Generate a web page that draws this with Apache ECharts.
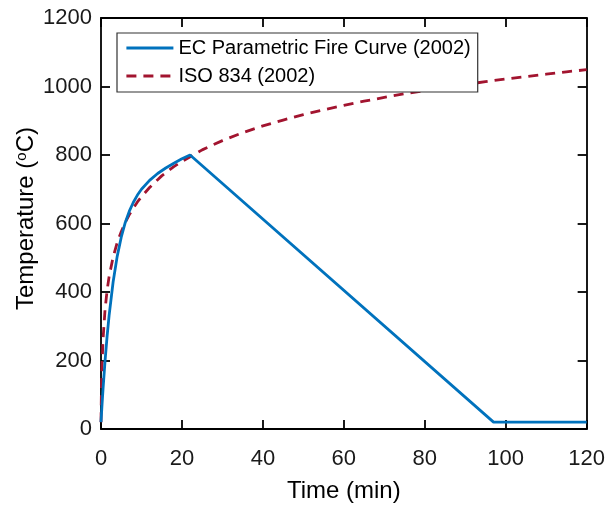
<!DOCTYPE html>
<html><head><meta charset="utf-8">
<script src="https://cdn.jsdelivr.net/npm/echarts@6/dist/echarts.min.js"></script>
<style>html,body{margin:0;padding:0;background:#fff}#c{width:608px;height:508px}</style>
</head><body><div id="c"></div>
<script>
var ecTime = [0, 0.25, 0.5, 1, 1.5, 2, 3, 4, 5, 6, 7, 8, 9, 10, 12, 14, 16, 18, 20, 22, 97, 120];
var ecTemp = [20, 70, 116, 199, 270, 331, 430, 504, 560, 603, 636, 662, 683, 700, 726, 746, 762, 776, 789, 800, 20, 20];
var isoTime = [0, 0.1, 0.25, 0.5, 1, 1.5, 2, 3, 4, 5, 6, 7, 8, 9, 10, 12, 14, 15, 17, 18, 20, 25, 30, 35, 40, 45, 50, 55, 60, 65, 70, 75, 80, 85, 90, 95, 100, 105, 110, 115, 120];
var isoTemp = [20, 108, 185, 261, 349, 404, 445, 502, 544, 576, 603, 626, 645, 663, 678, 705, 728, 739, 757, 766, 781, 815, 842, 865, 885, 902, 918, 932, 945, 957, 968, 979, 988, 997, 1006, 1014, 1022, 1029, 1036, 1043, 1049];
var xTicks = [0, 20, 40, 60, 80, 100, 120];
var yTicks = [0, 200, 400, 600, 800, 1000, 1200];
var names = ['EC Parametric Fire Curve (2002)', 'ISO 834 (2002)'];

function pairs(xs, ys){ return xs.map(function(x,i){ return [x, ys[i]]; }); }
var font = 'Liberation Sans, Arial, sans-serif';
var axLine = {show:true, onZero:false, lineStyle:{color:'#000', width:1.8}};
var tick = {show:true, inside:true, length:9, lineStyle:{color:'#000', width:1.8}};
function xAx(pos, show){ return {type:'value', position:pos, min:xTicks[0], max:xTicks[xTicks.length-1], interval:xTicks[1]-xTicks[0],
  axisLine:axLine, axisTick:tick,
  axisLabel:{show:show, color:'#1a1a1a', fontSize:22, fontFamily:font, margin:19, formatter:function(v){return String(v);}},
  splitLine:{show:false},
  name: show ? 'Time (min)' : '', nameLocation:'middle', nameGap:50, nameMoveOverlap:false,
  nameTextStyle:{color:'#000', fontSize:24, fontFamily:font}}; }
function yAx(pos, show){ return {type:'value', position:pos, min:yTicks[0], max:yTicks[yTicks.length-1], interval:yTicks[1]-yTicks[0],
  axisLine:axLine, axisTick:tick,
  axisLabel:{show:show, color:'#1a1a1a', fontSize:22, fontFamily:font, margin:9, padding:[4,0,0,0], formatter:function(v){return String(v);}},
  splitLine:{show:false},
  name: show ? '{n|Temperature (}{s|o}{n|C)}' : '', nameLocation:'middle', nameGap:62, nameMoveOverlap:false,
  nameTextStyle:{color:'#000', fontSize:24, fontFamily:font, padding:[0,0,0,10],
    rich:{n:{fontSize:24, fontFamily:font, color:'#000'}, s:{fontSize:15, fontFamily:font, color:'#000', verticalAlign:'top', padding:[0,0,10,0]}}}}; }

var chart = echarts.init(document.getElementById('c'), null, {renderer:'canvas'});
chart.setOption({
  animation:false,
  backgroundColor:'#fff',
  grid:{left:101, right:21, top:18, bottom:71, containLabel:false},
  xAxis:[xAx('bottom', true), xAx('top', false)],
  yAxis:[yAx('left', true), yAx('right', false)],
  legend:{orient:'vertical', left:117, top:33, itemWidth:47, itemHeight:12, itemGap:8,
    padding:[5,7,6,8], borderColor:'#333', borderWidth:1.2, backgroundColor:'#fff',
    itemStyle:{opacity:0},
    lineStyle:{width:2.8},
    textStyle:{fontSize:20, fontFamily:font, color:'#000', padding:[0,0,0,0]},
    data:names},
  series:[
    {name:names[0], type:'line', data:pairs(ecTime, ecTemp), showSymbol:false, symbol:'none',
     lineStyle:{color:'#0072BD', width:2.8}, itemStyle:{color:'#0072BD'}, z:3},
    {name:names[1], type:'line', data:pairs(isoTime, isoTemp), showSymbol:false, symbol:'none',
     lineStyle:{color:'#A2142F', width:2.8, type:[10,7]}, itemStyle:{color:'#A2142F'}, z:2}
  ]
});
</script></body></html>
